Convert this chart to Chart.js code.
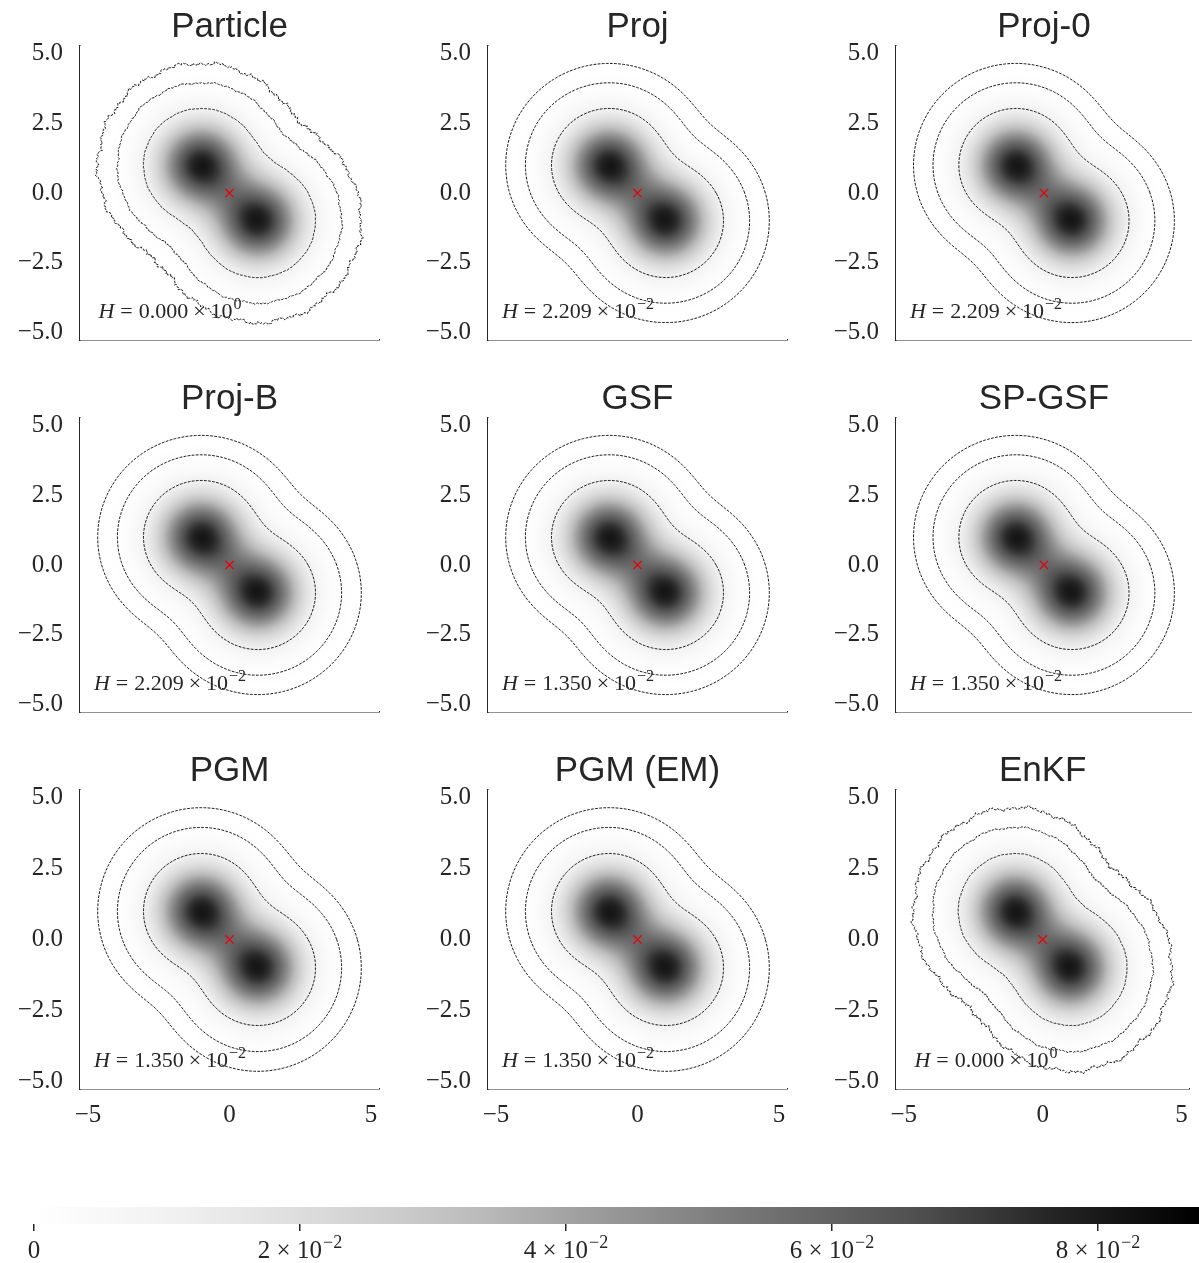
<!DOCTYPE html>
<html>
<head>
<meta charset="utf-8">
<script src="https://cdn.jsdelivr.net/npm/chart.js@4.4.1/dist/chart.umd.min.js"></script>
<style>
  html, body { margin: 0; padding: 0; background: #fff; }
  #fig { position: relative; width: 1199px; height: 1263px; overflow: hidden; }
  #fig canvas { position: absolute; }
</style>
</head>
<body>
<div id="fig"></div>
<script>
// panel titles and the entropy figure printed in each panel
const titles = ['Particle', 'Proj', 'Proj-0', 'Proj-B', 'GSF', 'SP-GSF', 'PGM', 'PGM (EM)', 'EnKF'];
const entMantissa = ['0.000', '2.209', '2.209', '2.209', '1.350', '1.350', '1.350', '1.350', '0.000'];
const entExponent = ['0', '\u22122', '\u22122', '\u22122', '\u22122', '\u22122', '\u22122', '\u22122', '0'];
// panels estimated from samples get ragged contours
const sampled = [true, false, false, false, false, false, false, false, true];

// two-component gaussian mixture and its mean
const mixWeights = [0.5, 0.5];
const mixMeans = [[-1, 1], [1, -1]];
const mixSigma = 1.0;
const meanPoint = [0, 0];

// contour levels, colour range and ticks
const contourLevels = [1e-2, 1e-3, 1e-4];
const wobbleAmp = [0.015, 0.05, 0.11];
const vmax = 0.0876;
const axisLim = 5.28;
const ticksY = [-5, -2.5, 0, 2.5, 5];
const ticksX = [-5, 0, 5];
const cbarTicks = [0, 0.02, 0.04, 0.06, 0.08];
const cbarMant = ['0', '2', '4', '6', '8'];

// matplotlib "Greys"
const greys = [1.0, 0.9412, 0.8510, 0.7412, 0.5882, 0.4510, 0.3216, 0.1451, 0.0];
function greyAt(f) {
  f = Math.min(1, Math.max(0, f)) * (greys.length - 1);
  const i = Math.min(greys.length - 2, Math.floor(f));
  const t = f - i;
  return Math.round(255 * (greys[i] + (greys[i + 1] - greys[i]) * t));
}

function density(x, y) {
  const s2 = mixSigma * mixSigma;
  let p = 0;
  for (let k = 0; k < mixWeights.length; k++) {
    const dx = x - mixMeans[k][0], dy = y - mixMeans[k][1];
    p += mixWeights[k] * Math.exp(-(dx * dx + dy * dy) / (2 * s2)) / (2 * Math.PI * s2);
  }
  return p;
}

// periodic roughness for the sample based estimates
function ragged(t, ph) {
  return 0.4 * Math.sin(19 * t + ph) + 0.3 * Math.sin(47 * t + 2.1 * ph + 1) +
         0.25 * Math.sin(113 * t + 3.3 * ph + 0.5) + 0.2 * Math.sin(241 * t + 5.7 * ph) +
         0.15 * Math.sin(397 * t + 1.9 * ph + 2);
}

// level set of the density, found ray by ray from the origin
function traceContour(level, amp, ph) {
  const pts = [];
  const n = amp ? 900 : 300;
  for (let i = 0; i <= n; i++) {
    const t = 2 * Math.PI * i / n;
    const c = Math.cos(t), s = Math.sin(t);
    let r = 8;
    while (r > 0 && density(r * c, r * s) < level) r -= 0.05;
    let lo = r, hi = r + 0.05;
    for (let k = 0; k < 25; k++) {
      const m = (lo + hi) / 2;
      if (density(m * c, m * s) >= level) lo = m; else hi = m;
    }
    const rr = lo + (amp ? amp * ragged(t, ph) : 0);
    pts.push({ x: rr * c, y: rr * s });
  }
  return pts;
}

const fmtMinus = v => (v < 0 ? '\u2212' : '') + Math.abs(v);

const densityImage = {
  id: 'densityImage',
  beforeDatasetsDraw(chart) {
    const { ctx, chartArea: a, scales: { x, y } } = chart;
    if (!chart.$img) {
      const w = Math.round(a.right - a.left), h = Math.round(a.bottom - a.top);
      const off = document.createElement('canvas');
      off.width = w; off.height = h;
      const octx = off.getContext('2d');
      const img = octx.createImageData(w, h);
      for (let j = 0; j < h; j++) {
        const yv = y.getValueForPixel(a.top + j + 0.5);
        for (let i = 0; i < w; i++) {
          const xv = x.getValueForPixel(a.left + i + 0.5);
          const g = greyAt(density(xv, yv) / vmax);
          const o = (j * w + i) * 4;
          img.data[o] = img.data[o + 1] = img.data[o + 2] = g;
          img.data[o + 3] = 255;
        }
      }
      octx.putImageData(img, 0, 0);
      chart.$img = off;
    }
    ctx.drawImage(chart.$img, a.left, a.top);
  }
};

const panelText = {
  id: 'panelText',
  afterDraw(chart, args, opts) {
    const { ctx, chartArea: a } = chart;
    ctx.save();
    ctx.fillStyle = '#262626';
    ctx.textBaseline = 'alphabetic';
    ctx.textAlign = 'center';
    ctx.font = '35px "Liberation Sans", Arial, sans-serif';
    ctx.fillText(opts.title, (a.left + a.right) / 2, a.top - 9.5);

    // H = m x 10^e
    const base = '"Liberation Serif", "Times New Roman", serif';
    const parts = [
      { t: 'H', f: 'italic 22px ' + base, gap: 6 },
      { t: '=', f: '22px ' + base, gap: 6 },
      { t: opts.mant, f: '22px ' + base, gap: 5 },
      { t: '\u00d7', f: '22px ' + base, gap: 5 },
      { t: '10', f: '22px ' + base, gap: 1 },
      { t: opts.exp, f: '16px ' + base, gap: 0, dy: -9 }
    ];
    let total = 0;
    parts.forEach(p => { ctx.font = p.f; p.w = ctx.measureText(p.t).width; total += p.w + p.gap; });
    let px = a.left + 90 - total / 2;
    const by = a.bottom - 22;
    ctx.textAlign = 'left';
    parts.forEach(p => {
      ctx.font = p.f;
      ctx.fillText(p.t, px, by + (p.dy || 0));
      px += p.w + p.gap;
    });
    ctx.restore();
  }
};

const fig = document.getElementById('fig');
const colLeft = [0, 408, 816];
const rowTop = [0, 372, 744];
const tickFont = { family: '"Liberation Serif", "Times New Roman", serif', size: 25 };

titles.forEach((title, idx) => {
  const r = Math.floor(idx / 3), c = idx % 3;
  const W = c === 2 ? 1199 - colLeft[c] : 408;
  const H = r === 2 ? 420 : 372;
  const showX = r === 2;
  const cv = document.createElement('canvas');
  cv.width = W; cv.height = H;
  cv.style.left = colLeft[c] + 'px';
  cv.style.top = rowTop[r] + 'px';
  fig.appendChild(cv);

  const datasets = [{
    data: [{ x: meanPoint[0], y: meanPoint[1] }],
    pointStyle: 'crossRot', pointRadius: 6, borderColor: '#e8000b', borderWidth: 1.1,
    showLine: false
  }];
  contourLevels.forEach((lv, k) => {
    datasets.push({
      data: traceContour(lv, sampled[idx] ? wobbleAmp[k] : 0, idx * 0.7 + k),
      showLine: true, borderColor: '#000', borderWidth: 0.9, borderDash: [2.8, 1.3],
      pointRadius: 0, fill: false, tension: 0
    });
  });

  new Chart(cv, {
    type: 'scatter',
    data: { datasets },
    options: {
      responsive: false,
      animation: false,
      events: [],
      layout: { padding: { top: 46, left: 0, right: W - 379, bottom: 0 } },
      plugins: {
        legend: { display: false },
        tooltip: { enabled: false },
        panelText: { title, mant: entMantissa[idx], exp: entExponent[idx] }
      },
      scales: {
        x: {
          type: 'linear', min: -axisLim, max: axisLim,
          grid: { display: false, drawTicks: false },
          border: { display: true, color: '#262626', width: 1.5 },
          ticks: { display: showX, autoSkip: false, maxRotation: 0, font: tickFont, color: '#262626', padding: 11, callback: v => fmtMinus(v) },
          afterBuildTicks: s => { s.ticks = ticksX.map(v => ({ value: v })); },
          afterFit: s => { s.height = H - 345; }
        },
        y: {
          type: 'linear', min: -axisLim, max: axisLim,
          grid: { display: false, drawTicks: false },
          border: { display: true, color: '#262626', width: 1.5 },
          ticks: { autoSkip: false, font: tickFont, color: '#262626', padding: 17, callback: v => (v < 0 ? '\u2212' : '') + Math.abs(v).toFixed(1) },
          afterBuildTicks: s => { s.ticks = ticksY.map(v => ({ value: v })); },
          afterFit: s => { s.width = 80; }
        }
      }
    },
    plugins: [densityImage, panelText]
  });
});

// colour bar along the bottom
const cbarScaleMax = (1199 - 34) / 13300;
const cbarBar = {
  id: 'cbarBar',
  beforeDatasetsDraw(chart) {
    const { ctx, chartArea: a, scales: { x } } = chart;
    for (let px = Math.floor(x.getPixelForValue(0)); px < a.right; px++) {
      const g = greyAt(x.getValueForPixel(px + 0.5) / vmax);
      ctx.fillStyle = 'rgb(' + g + ',' + g + ',' + g + ')';
      ctx.fillRect(px, a.top, 1, a.bottom - a.top);
    }
  },
  afterDraw(chart) {
    const { ctx, chartArea: a, scales: { x } } = chart;
    const base = '"Liberation Serif", "Times New Roman", serif';
    ctx.save();
    ctx.fillStyle = '#262626';
    ctx.textBaseline = 'alphabetic';
    const by = a.bottom + 34;
    cbarTicks.forEach((v, i) => {
      const cx = x.getPixelForValue(v);
      if (v === 0) {
        ctx.font = '25px ' + base; ctx.textAlign = 'center';
        ctx.fillText('0', cx, by);
        return;
      }
      const main = cbarMant[i] + ' \u00d7 10';
      ctx.font = '25px ' + base;
      const w1 = ctx.measureText(main).width;
      ctx.font = '18px ' + base;
      const w2 = ctx.measureText('\u22122').width;
      const left = cx - (w1 + w2 + 1) / 2;
      ctx.textAlign = 'left';
      ctx.font = '25px ' + base;
      ctx.fillText(main, left, by);
      ctx.font = '18px ' + base;
      ctx.fillText('\u22122', left + w1 + 1, by - 10);
    });
    ctx.restore();
  }
};

const cb = document.createElement('canvas');
cb.width = 1199; cb.height = 83;
cb.style.left = '0px'; cb.style.top = '1180px';
fig.appendChild(cb);
new Chart(cb, {
  type: 'scatter',
  data: { datasets: [{ data: [] }] },
  options: {
    responsive: false,
    animation: false,
    events: [],
    layout: { padding: { top: 27, left: 34, right: 0, bottom: 0 } },
    plugins: { legend: { display: false }, tooltip: { enabled: false } },
    scales: {
      x: {
        type: 'linear', min: 0, max: cbarScaleMax,
        grid: { display: true, drawOnChartArea: false, drawTicks: true, tickLength: 7, color: '#262626', lineWidth: 1.5 },
        border: { display: false },
        ticks: { display: false },
        afterBuildTicks: s => { s.ticks = cbarTicks.map(v => ({ value: v })); },
        afterFit: s => { s.height = 39; }
      },
      y: { display: false, min: 0, max: 1 }
    }
  },
  plugins: [cbarBar]
});
</script>
</body>
</html>
